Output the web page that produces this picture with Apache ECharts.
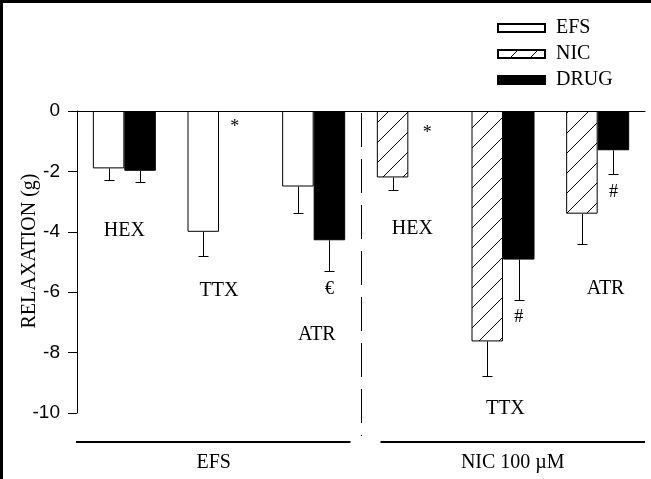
<!DOCTYPE html>
<html>
<head>
<meta charset="utf-8">
<script src="https://cdn.jsdelivr.net/npm/echarts@6/dist/echarts.min.js"></script>
<style>
  html, body { margin: 0; padding: 0; background: #fff; }
  #chart { width: 651px; height: 479px; }
</style>
</head>
<body>
<div id="chart"></div>
<script>
// Relaxation responses (g), mean with lower error bar (SEM)
const categories = ['EFS-HEX', 'EFS-TTX', 'EFS-ATR', 'NIC-HEX', 'NIC-TTX', 'NIC-ATR'];

const efsValues  = [-1.9, -4.0, -2.5, null, null, null];
const efsErrors  = [0.4, 0.8, 0.87, null, null, null];

const nicValues  = [null, null, null, -2.2, -7.63, -3.4];
const nicErrors  = [null, null, null, 0.42, 1.16, 1.02];

const drugValues = [-1.98, null, -4.28, null, -4.92, -1.3];
const drugErrors = [0.37, null, 1.02, null, 1.35, 0.8];

const yTicks = [-10, -8, -6, -4, -2, 0];

// Drug names and significance marks, placed in data space
// (category index, side: -1 left bar / 0 centre / 1 right bar, y value)
const noteTexts = ['HEX', 'TTX', '*', '€', 'ATR', 'HEX', '*', 'TTX', '#', 'ATR', '#'];
const noteCats  = [0, 1, 1, 2, 2, 3, 3, 4, 4, 5, 5];
const noteSides = [0, 0, 1, 1, 0.2, 0.25, 1.2, 0.15, 1, 0.5, 1];
const noteYs    = [-3.95, -5.95, -0.55, -5.9, -7.4, -3.9, -0.75, -9.86, -6.84, -5.9, -2.7];

const groupLabels = ['EFS', 'NIC 100 µM'];

// ---- styling ----
const SERIF = '"Liberation Serif", "Times New Roman", serif';
const SANS = '"Liberation Sans", Arial, sans-serif';
const BAR_W = 31.5;
const GRID = { left: 77, right: 6, top: 111, bottom: 66 };

// diagonal hatch tile
function hatchTile() {
  const s = 20;
  const c = document.createElement('canvas');
  c.width = s; c.height = s;
  const g = c.getContext('2d');
  g.fillStyle = '#fff';
  g.fillRect(0, 0, s, s);
  g.strokeStyle = '#000';
  g.lineWidth = 1;
  g.beginPath();
  g.moveTo(-2, s + 2); g.lineTo(s + 2, -2);
  g.moveTo(-2, 2); g.lineTo(2, -2);
  g.moveTo(s - 2, s + 2); g.lineTo(s + 2, s - 2);
  g.stroke();
  return c;
}
const hatch = { image: hatchTile(), repeat: 'repeat' };

const errorData = [];
function addErrors(vals, errs, side) {
  vals.forEach((v, i) => {
    if (v != null && errs[i] != null) errorData.push([i, side, v, errs[i]]);
  });
}
addErrors(efsValues, efsErrors, -1);
addErrors(nicValues, nicErrors, -1);
addErrors(drugValues, drugErrors, 1);

const noteData = noteTexts.map((t, i) => [noteCats[i], noteSides[i], noteYs[i], t]);

const barStyle = (fill) => ({ color: fill, borderColor: '#000', borderWidth: 1 });

const chart = echarts.init(document.getElementById('chart'), null, { renderer: 'canvas' });

const option = {
  animation: false,
  backgroundColor: '#fff',
  textStyle: { fontFamily: SERIF },
  grid: { left: GRID.left, right: GRID.right, top: GRID.top, bottom: GRID.bottom, containLabel: false },
  legend: {
    data: ['EFS', 'NIC', 'DRUG'],
    orient: 'vertical',
    left: 497,
    top: 15,
    padding: 0,
    icon: 'rect',
    itemWidth: 47,
    itemHeight: 8,
    itemGap: 0,
    selectedMode: false,
    textStyle: { fontFamily: SERIF, fontSize: 20, color: '#000', lineHeight: 26, padding: [0, 0, 0, 6] }
  },
  xAxis: {
    type: 'category',
    data: categories,
    axisLine: { show: true, onZero: true, lineStyle: { color: '#000', width: 1 } },
    axisTick: { show: false },
    axisLabel: { show: false },
    splitLine: { show: false }
  },
  yAxis: {
    type: 'value',
    min: -10,
    max: 0,
    interval: 2,
    axisLine: { show: true, lineStyle: { color: '#000', width: 1 } },
    axisTick: { show: true, inside: false, length: 9, lineStyle: { color: '#000' } },
    axisLabel: {
      margin: 17,
      fontFamily: SANS,
      fontSize: 19,
      color: '#000',
      formatter: (v) => (yTicks.includes(v) ? String(v) : '')
    },
    splitLine: { show: false }
  },
  series: [
    {
      name: 'EFS', type: 'bar', stack: 'first', data: efsValues,
      barWidth: BAR_W, barGap: '0%', itemStyle: barStyle('#fff')
    },
    {
      name: 'NIC', type: 'bar', stack: 'first', data: nicValues,
      barWidth: BAR_W, barGap: '0%', itemStyle: barStyle(hatch)
    },
    {
      name: 'DRUG', type: 'bar', data: drugValues,
      barWidth: BAR_W, barGap: '0%', itemStyle: barStyle('#000')
    },
    {
      name: 'errors', type: 'custom', data: errorData, z: 1,
      encode: { x: 0, y: 2 },
      renderItem: (params, api) => {
        const side = api.value(1);
        const v = api.value(2);
        const err = api.value(3);
        const top = api.coord([api.value(0), v]);
        const end = api.coord([api.value(0), v - err]);
        const x = Math.round(top[0] + side * BAR_W / 2) + 0.5;
        const yEnd = Math.round(end[1]) + 0.5;
        const cap = 5;
        const st = { stroke: '#000', lineWidth: 1 };
        return {
          type: 'group',
          children: [
            { type: 'line', shape: { x1: x, y1: top[1], x2: x, y2: yEnd }, style: st },
            { type: 'line', shape: { x1: x - cap, y1: yEnd, x2: x + cap, y2: yEnd }, style: st }
          ]
        };
      }
    },
    {
      name: 'notes', type: 'custom', data: noteData, z: 5,
      encode: { x: 0, y: 2 },
      renderItem: (params, api) => {
        const p = api.coord([api.value(0), api.value(2)]);
        const side = api.value(1);
        const txt = noteData[params.dataIndex][3];
        const small = txt === '*' || txt === '#' || txt === '€';
        return {
          type: 'text',
          x: p[0] + side * BAR_W / 2,
          y: p[1],
          style: {
            text: txt,
            fill: '#000',
            font: (small ? '18px ' : '20px ') + SERIF,
            align: 'center',
            verticalAlign: 'middle'
          }
        };
      }
    }
  ]
};

chart.setOption(option);

// Decorations: axis title, section separator, group brackets and labels, frame
const W = 651, H = 479;
const plotLeft = GRID.left;
const plotRight = W - GRID.right;
const sepX = Math.round((chart.convertToPixel({ xAxisIndex: 0 }, 2) + chart.convertToPixel({ xAxisIndex: 0 }, 3)) / 2) + 0.5;
const yZero = chart.convertToPixel({ yAxisIndex: 0 }, 0);
const bracketY = 442;
const labelY = 463;

chart.setOption({
  graphic: [
    {
      type: 'text', x: 30, y: 251, rotation: Math.PI / 2,
      style: { text: 'RELAXATION (g)', font: '20px ' + SERIF, fill: '#000', align: 'center', verticalAlign: 'middle' }
    },
    {
      type: 'line', shape: { x1: sepX, y1: yZero + 2, x2: sepX, y2: 436 },
      style: { stroke: '#000', lineWidth: 1, lineDash: [34, 12] }
    },
    {
      type: 'line', shape: { x1: plotLeft - 1, y1: bracketY, x2: sepX - 11, y2: bracketY },
      style: { stroke: '#000', lineWidth: 2 }
    },
    {
      type: 'line', shape: { x1: sepX + 19, y1: bracketY, x2: plotRight, y2: bracketY },
      style: { stroke: '#000', lineWidth: 2 }
    },
    {
      type: 'text', x: (plotLeft + sepX - 11) / 2, y: labelY,
      style: { text: groupLabels[0], font: '20px ' + SERIF, fill: '#000', align: 'center', verticalAlign: 'middle' }
    },
    {
      type: 'text', x: (sepX + 19 + plotRight) / 2, y: labelY,
      style: { text: groupLabels[1], font: '20px ' + SERIF, fill: '#000', align: 'center', verticalAlign: 'middle' }
    },
    {
      type: 'line', shape: { x1: 0, y1: 1.5, x2: W, y2: 1.5 },
      style: { stroke: '#000', lineWidth: 3 }
    },
    {
      type: 'line', shape: { x1: 1.5, y1: 0, x2: 1.5, y2: H },
      style: { stroke: '#000', lineWidth: 3 }
    }
  ]
});
</script>
</body>
</html>
